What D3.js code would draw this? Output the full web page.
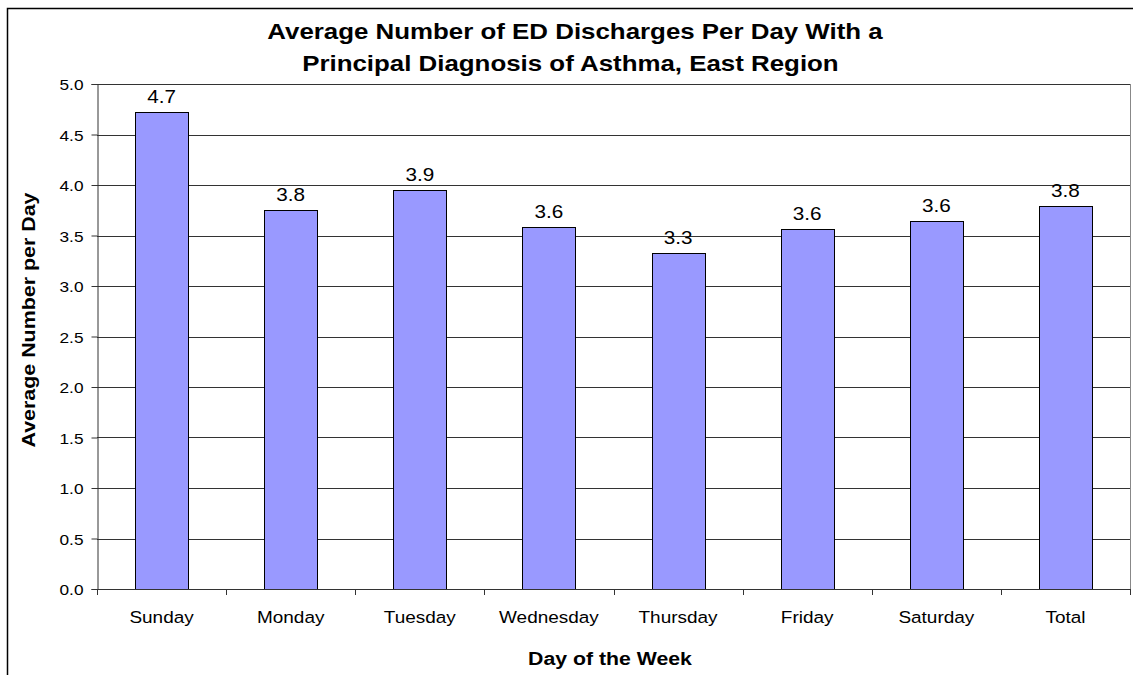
<!DOCTYPE html>
<html>
<head>
<meta charset="utf-8">
<script src="https://cdn.jsdelivr.net/npm/d3@7"></script>
<style>
  body { margin: 0; background: #fff; }
  text { font-family: Arial, "Liberation Sans", sans-serif; fill: #000; }
</style>
</head>
<body>
<svg id="chart" width="1133" height="675"></svg>
<script>
var days = ["Sunday", "Monday", "Tuesday", "Wednesday", "Thursday", "Friday", "Saturday", "Total"]
var averages = [4.72, 3.75, 3.95, 3.58, 3.33, 3.56, 3.64, 3.79]
var labels = ["4.7", "3.8", "3.9", "3.6", "3.3", "3.6", "3.6", "3.8"]
var yTicks = [0, 0.5, 1, 1.5, 2, 2.5, 3, 3.5, 4, 4.5, 5]

var svg = d3.select("#chart")
var plotLeft = 97, plotRight = 1130, plotTop = 84, plotBottom = 589
var stretch = 1.15   // the original picture is a bit wider than tall

// outer chart frame (runs off right/bottom like the original)
svg.append("rect")
    .attr("x", 7.5).attr("y", 8.5)
    .attr("width", 1136).attr("height", 680)
    .style("fill", "none").style("stroke", "#000").style("stroke-width", 1.5)

var x = d3.scaleBand().domain(days).range([plotLeft, plotRight])
    .paddingInner(0.59).paddingOuter(0.295)
var y = d3.scaleLinear().domain([0, 5]).range([plotBottom, plotTop])

function placed(cx, cy) { return "translate(" + cx + "," + cy + ") scale(" + stretch + ",1)" }

// gridlines
svg.append("g").selectAll("line")
    .data(yTicks.slice(1))
    .enter().append("line")
    .attr("x1", plotLeft).attr("x2", plotRight)
    .attr("y1", function(d) { return Math.round(y(d)) + 0.5 })
    .attr("y2", function(d) { return Math.round(y(d)) + 0.5 })
    .style("stroke", "#333").style("stroke-width", 1)

// plot area right border
svg.append("line")
    .attr("x1", plotRight + 0.5).attr("x2", plotRight + 0.5)
    .attr("y1", plotTop).attr("y2", plotBottom)
    .style("stroke", "#888")

// bars
svg.append("g").selectAll("rect")
    .data(averages)
    .enter().append("rect")
    .attr("x", function(d, i) { return Math.round(x(days[i])) + 0.5 })
    .attr("y", function(d) { return Math.round(y(d)) + 0.5 })
    .attr("width", Math.round(x.bandwidth()))
    .attr("height", function(d) { return Math.round(y(0)) - Math.round(y(d)) })
    .style("fill", "#9999ff").style("stroke", "#000").style("stroke-width", 1)

// value labels
svg.append("g").selectAll("text")
    .data(averages)
    .enter().append("text")
    .attr("transform", function(d, i) { return placed(x(days[i]) + x.bandwidth() / 2, y(d) - 9) })
    .attr("text-anchor", "middle")
    .style("font-size", "18px")
    .text(function(d, i) { return labels[i] })

// y axis
var yAxis = svg.append("g")
    .attr("transform", "translate(" + (plotLeft + 0.5) + ",0)")
    .call(d3.axisLeft(y).tickValues(yTicks).tickSize(6).tickFormat(d3.format(".1f")))
yAxis.selectAll("line").style("stroke", "#333")
yAxis.select(".domain").style("stroke", "#333")
yAxis.selectAll("text")
    .attr("x", null).attr("dy", null)
    .attr("transform", placed(-14, 5.5))
    .style("font-size", "15px").style("font-family", "Arial, 'Liberation Sans', sans-serif")

// x axis
var tickPos = days.map(function(d, i) { return plotLeft + i * x.step() })
tickPos.push(plotRight)
var xAxis = svg.append("g")
xAxis.append("line")
    .attr("x1", plotLeft).attr("x2", plotRight + 1)
    .attr("y1", plotBottom + 0.5).attr("y2", plotBottom + 0.5)
    .style("stroke", "#333")
xAxis.selectAll("line.tick")
    .data(tickPos)
    .enter().append("line").attr("class", "tick")
    .attr("x1", function(d) { return Math.round(d) + 0.5 })
    .attr("x2", function(d) { return Math.round(d) + 0.5 })
    .attr("y1", plotBottom).attr("y2", plotBottom + 6)
    .style("stroke", "#333")
xAxis.selectAll("text")
    .data(days)
    .enter().append("text")
    .attr("transform", function(d) { return placed(x(d) + x.bandwidth() / 2, 623) })
    .attr("text-anchor", "middle")
    .style("font-size", "16.5px")
    .text(function(d) { return d })

// titles
var title = svg.append("text")
    .attr("transform", placed(575, 0))
    .attr("text-anchor", "middle")
    .style("font-size", "22.5px").style("font-weight", "bold")
title.append("tspan").attr("x", 0).attr("y", 39).text("Average Number of ED Discharges Per Day With a")
title.append("tspan").attr("x", -4).attr("y", 71).text("Principal Diagnosis of Asthma, East Region")

svg.append("text")
    .attr("transform", placed(610, 665))
    .attr("text-anchor", "middle")
    .style("font-size", "18.5px").style("font-weight", "bold")
    .text("Day of the Week")

svg.append("text")
    .attr("transform", "translate(35,320) rotate(-90) scale(" + (stretch + 0.04) + ",1)")
    .attr("text-anchor", "middle")
    .style("font-size", "18px").style("font-weight", "bold")
    .text("Average Number per Day")
</script>
</body>
</html>
